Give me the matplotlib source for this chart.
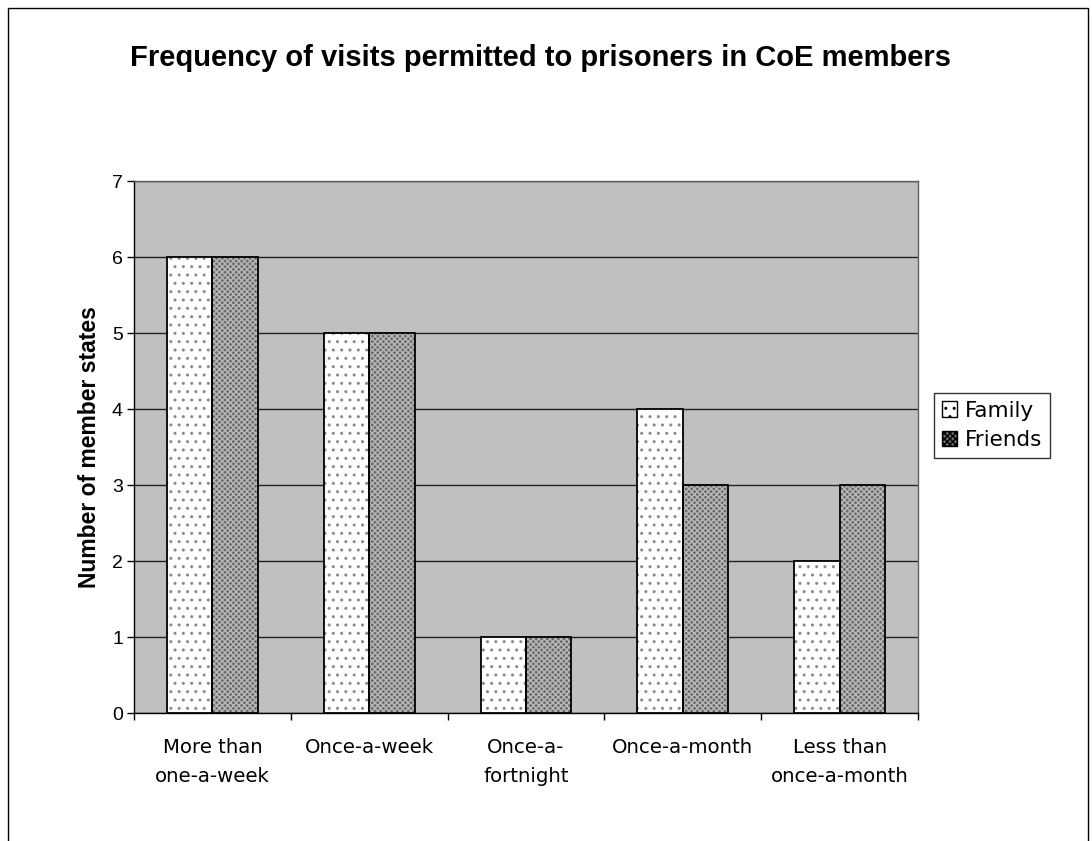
import matplotlib
matplotlib.use("Agg")
import matplotlib.pyplot as plt
from matplotlib.patches import Rectangle, Patch
import numpy as np

categories = ["More than\none-a-week", "Once-a-week", "Once-a-\nfortnight",
              "Once-a-month", "Less than\nonce-a-month"]
family = [6, 5, 1, 4, 2]
friends = [6, 5, 1, 3, 3]
series_names = ["Family", "Friends"]
yticks = [0, 1, 2, 3, 4, 5, 6, 7]

W, H = 1092, 841
fig = plt.figure(figsize=(W / 100, H / 100), dpi=100)
fig.patch.set_facecolor("white")

fig.add_artist(Rectangle((8 / W, -0.05), (1088 - 8) / W, (H - 8) / H + 0.05,
                         transform=fig.transFigure, fill=False,
                         edgecolor="black", linewidth=1.0))

ax = fig.add_axes([134 / W, (H - 713) / H, 784 / W, 532 / H])
ax.set_facecolor("#C0C0C0")
x = np.arange(len(categories))
bw = 0.29

ax.bar(x - bw / 2, family, bw, color="white", edgecolor="#8a8a8a",
       hatch="..", linewidth=0, zorder=3)
ax.bar(x + bw / 2, friends, bw, color="#6a6a6a", edgecolor="#b8b8b8",
       hatch="xxxxxx", linewidth=0, zorder=3)
ax.bar(x - bw / 2, family, bw, fill=False, edgecolor="black", linewidth=1.3, zorder=4)
ax.bar(x + bw / 2, friends, bw, fill=False, edgecolor="black", linewidth=1.3, zorder=4)

ax.set_xlim(-0.5, len(categories) - 0.5)
ax.set_ylim(0, 7)
ax.set_yticks(yticks)
ax.set_yticklabels([str(v) for v in yticks], fontsize=14, family="Liberation Sans")
ax.yaxis.grid(True, color="#202020", linewidth=1.0, zorder=1)
ax.set_axisbelow(True)

ax.set_xticks(np.arange(len(categories) + 1) - 0.5)
ax.set_xticklabels([])
ax.set_xticks(x, minor=True)
ax.set_xticklabels(categories, minor=True, fontsize=14.2, family="DejaVu Sans",
                   linespacing=1.7)
ax.tick_params(axis="x", which="minor", length=0, pad=18)
ax.tick_params(axis="x", which="major", length=5, direction="out", width=1)
ax.tick_params(axis="y", length=5, direction="out", width=1, pad=3)

for s in ["left", "bottom"]:
    ax.spines[s].set_color("black")
    ax.spines[s].set_linewidth(1.0)
for s in ["top", "right"]:
    ax.spines[s].set_color("#606060")
    ax.spines[s].set_linewidth(1.0)

ax.set_ylabel("Number of member states", fontsize=16.5, fontweight="bold",
              family="Liberation Sans", labelpad=8)

fig.text(540 / W, 1 - 58 / H, "Frequency of visits permitted to prisoners in CoE members",
         ha="center", va="center", fontsize=21, fontweight="bold",
         family="Liberation Sans")

handles = [Patch(facecolor="white", edgecolor="black", hatch="..", linewidth=1),
           Patch(facecolor="#6a6a6a", edgecolor="black", hatch="xxxxxx", linewidth=1)]
leg = fig.legend(handles, series_names, loc="upper left",
                 bbox_to_anchor=(934 / W, 1 - 393 / H),
                 prop={"family": "DejaVu Sans", "size": 15.5},
                 frameon=True, fancybox=False, edgecolor="black",
                 handlelength=0.7, handleheight=0.7, handletextpad=0.4,
                 borderpad=0.35, labelspacing=0.45, borderaxespad=0)
leg.get_frame().set_linewidth(1.0)

fig.savefig("out.png", dpi=100)
